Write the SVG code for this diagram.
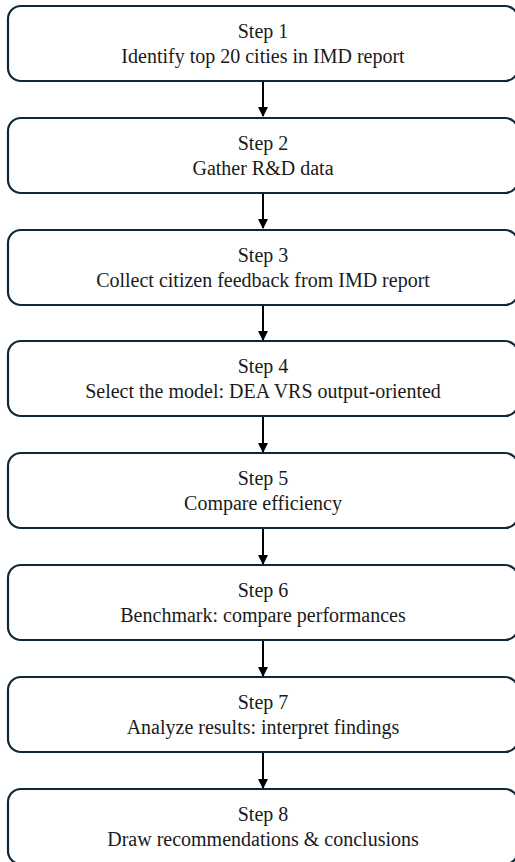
<svg xmlns="http://www.w3.org/2000/svg" width="515" height="862" viewBox="0 0 515 862">
<style>
.box{fill:#ffffff;stroke:#0e2838;stroke-width:2.2}
.t{font-size:20px;fill:#1a1a1a;text-anchor:middle}
.c{stroke:#000;stroke-width:2;fill:none}
</style>
<defs>
<marker id="ah" markerWidth="10" markerHeight="10" refX="9" refY="5" orient="auto" markerUnits="userSpaceOnUse">
<path d="M0,0 L10,5 L0,10 Z" fill="#000"/>
</marker>
</defs>
<rect width="515" height="862" fill="#fff"/>
<g id="connectors">
<line class="c" x1="263" y1="81" x2="263" y2="116" marker-end="url(#ah)"/>
<line class="c" x1="263" y1="193" x2="263" y2="228" marker-end="url(#ah)"/>
<line class="c" x1="263" y1="305" x2="263" y2="340" marker-end="url(#ah)"/>
<line class="c" x1="263" y1="416" x2="263" y2="452" marker-end="url(#ah)"/>
<line class="c" x1="263" y1="528" x2="263" y2="564" marker-end="url(#ah)"/>
<line class="c" x1="263" y1="640" x2="263" y2="676" marker-end="url(#ah)"/>
<line class="c" x1="263" y1="752" x2="263" y2="788" marker-end="url(#ah)"/>
</g>
<g font-family="Liberation Serif, serif">
<g id="step1"><rect class="box" x="8" y="6" width="510" height="75" rx="13"/><text class="t" x="263" y="38">Step 1</text><text class="t" x="263" y="63">Identify top 20 cities in IMD report</text></g>
<g id="step2"><rect class="box" x="8" y="118" width="510" height="75" rx="13"/><text class="t" x="263" y="150">Step 2</text><text class="t" x="263" y="175">Gather R&amp;D data</text></g>
<g id="step3"><rect class="box" x="8" y="230" width="510" height="75" rx="13"/><text class="t" x="263" y="262">Step 3</text><text class="t" x="263" y="287">Collect citizen feedback from IMD report</text></g>
<g id="step4"><rect class="box" x="8" y="341" width="510" height="75" rx="13"/><text class="t" x="263" y="373">Step 4</text><text class="t" x="263" y="398">Select the model: DEA VRS output-oriented</text></g>
<g id="step5"><rect class="box" x="8" y="453" width="510" height="75" rx="13"/><text class="t" x="263" y="485">Step 5</text><text class="t" x="263" y="510">Compare efficiency</text></g>
<g id="step6"><rect class="box" x="8" y="565" width="510" height="75" rx="13"/><text class="t" x="263" y="597">Step 6</text><text class="t" x="263" y="622">Benchmark: compare performances</text></g>
<g id="step7"><rect class="box" x="8" y="677" width="510" height="75" rx="13"/><text class="t" x="263" y="709">Step 7</text><text class="t" x="263" y="734">Analyze results: interpret findings</text></g>
<g id="step8"><rect class="box" x="8" y="789" width="510" height="75" rx="13"/><text class="t" x="263" y="821">Step 8</text><text class="t" x="263" y="846">Draw recommendations &amp; conclusions</text></g>
</g>
</svg>
